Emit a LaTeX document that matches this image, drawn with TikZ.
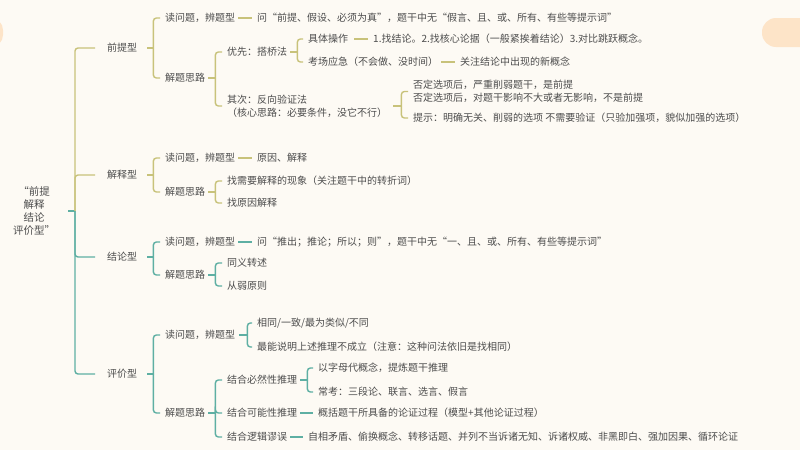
\documentclass[tikz,border=0pt]{standalone}
\usepackage{fontspec}
\setmainfont{Noto Sans CJK SC}
\definecolor{bg}{HTML}{FDFAF4}
\definecolor{olv}{HTML}{C8C27A}
\definecolor{tea}{HTML}{5EAFA3}
\definecolor{txt}{HTML}{4D4D4D}
\definecolor{blob}{HTML}{FDE4C8}
\begin{document}
\begin{tikzpicture}[x=1pt,y=-1pt,
  lbl/.style={anchor=west, inner sep=0pt, text=txt, font=\fontsize{10}{13}\selectfont, align=left},
  ol/.style={draw=olv, line width=1.4pt},
  tl/.style={draw=tea, line width=1.4pt},
  kid/.style={rounded corners=3pt, shorten >=5pt}]
\fill[bg] (0,0) rectangle (800,450);
\useasboundingbox (0,0) rectangle (800,450);
\fill[blob, rounded corners=12pt] (-20,18) rectangle (3,47);
\fill[blob, rounded corners=14pt] (762,18) rectangle (830,47);

% root
\node[lbl, anchor=center, align=center, font=\fontsize{10.5}{12.7}\selectfont] (root) at (34,211) {“前提\\解释\\结论\\评价型”};
\draw[tl] (root) ++(34,0) -- ++(7,0) coordinate (rb);

% level 1
\node[lbl] (a) at (107,48) {前提型};
\node[lbl] (b) at (107,175) {解释型};
\node[lbl] (c) at (107,257) {结论型};
\node[lbl] (d) at (107,374) {评价型};
\draw[ol,kid,shorten >=12pt] (rb) |- (a.west);
\draw[ol,kid,shorten >=12pt] (rb) |- (b.west);
\draw[tl,kid,shorten >=12pt] (rb) |- (c.west);
\draw[tl,kid,shorten >=12pt] (rb) |- (d.west);

% ---------- 前提型
\node[lbl] (a1) at (165,18) {读问题，辨题型};
\node[lbl] (a2) at (165,78) {解题思路};
\draw[ol] (a.east) ++(10,0) -- ++(6,0) coordinate (ba);
\draw[ol,kid] (ba) |- (a1.west);
\draw[ol,kid] (ba) |- (a2.west);

\node[lbl] (a1x) at (257,18) {问“前提、假设、必须为真”，题干中无“假言、且、或、所有、有些等提示词”};
\draw[ol,shorten >=5pt] (a1.east) ++(3,0) -- (a1x.west);

\node[lbl] (a21) at (227,52) {优先：搭桥法};
\node[lbl] (a22) at (227,106) {其次：反向验证法\\（核心思路：必要条件，没它不行）};
\draw[ol] (a2.east) ++(3,0) -- ++(7,0) coordinate (ba2);
\draw[ol,kid] (ba2) |- (a21.west);
\draw[ol,kid] (ba2) |- (a22.west);

\node[lbl] (a211) at (308,39) {具体操作};
\node[lbl] (a212) at (308,62) {考场应急（不会做、没时间）};
\draw[ol] (a21.east) ++(3,0) -- ++(7,0) coordinate (ba21);
\draw[ol,kid] (ba21) |- (a211.west);
\draw[ol,kid] (ba21) |- (a212.west);

\node[lbl] (a211x) at (373,39) {1.找结论。2.找核心论据（一般紧挨着结论）3.对比跳跃概念。};
\draw[ol,shorten >=5pt] (a211.east) ++(6,0) -- (a211x.west);
\node[lbl] (a212x) at (460,62) {关注结论中出现的新概念};
\draw[ol,shorten >=5pt] (a212.east) ++(3,0) -- (a212x.west);

\node[lbl] (a221) at (413,91.5) {否定选项后，严重削弱题干，是前提\\否定选项后，对题干影响不大或者无影响，不是前提};
\node[lbl] (a222) at (413,118) {提示：明确无关、削弱的选项 不需要验证（只验加强项，貌似加强的选项）};
\draw[ol] (a22.east) ++(6,0) -- ++(8,0) coordinate (ba22);
\draw[ol,kid] (ba22) |- (a221.west);
\draw[ol,kid] (ba22) |- (a222.west);

% ---------- 解释型
\node[lbl] (b1) at (165,158) {读问题，辨题型};
\node[lbl] (b2) at (165,192) {解题思路};
\draw[ol] (b.east) ++(10,0) -- ++(6,0) coordinate (bb);
\draw[ol,kid] (bb) |- (b1.west);
\draw[ol,kid] (bb) |- (b2.west);
\node[lbl] (b1x) at (257,158) {原因、解释};
\draw[ol,shorten >=5pt] (b1.east) ++(3,0) -- (b1x.west);
\node[lbl] (b21) at (227,181) {找需要解释的现象（关注题干中的转折词）};
\node[lbl] (b22) at (227,203) {找原因解释};
\draw[ol] (b2.east) ++(3,0) -- ++(7,0) coordinate (bb2);
\draw[ol,kid] (bb2) |- (b21.west);
\draw[ol,kid] (bb2) |- (b22.west);

% ---------- 结论型
\node[lbl] (c1) at (165,242) {读问题，辨题型};
\node[lbl] (c2) at (165,275) {解题思路};
\draw[tl] (c.east) ++(10,0) -- ++(6,0) coordinate (bc);
\draw[tl,kid] (bc) |- (c1.west);
\draw[tl,kid] (bc) |- (c2.west);
\node[lbl] (c1x) at (257,242) {问“推出；推论；所以；则”，题干中无“一、且、或、所有、有些等提示词”};
\draw[tl,shorten >=5pt] (c1.east) ++(3,0) -- (c1x.west);
\node[lbl] (c21) at (227,263) {同义转述};
\node[lbl] (c22) at (227,286) {从弱原则};
\draw[tl] (c2.east) ++(3,0) -- ++(7,0) coordinate (bc2);
\draw[tl,kid] (bc2) |- (c21.west);
\draw[tl,kid] (bc2) |- (c22.west);

% ---------- 评价型
\node[lbl] (d1) at (165,335) {读问题，辨题型};
\node[lbl] (d2) at (165,413) {解题思路};
\draw[tl] (d.east) ++(10,0) -- ++(6,0) coordinate (bd);
\draw[tl,kid] (bd) |- (d1.west);
\draw[tl,kid] (bd) |- (d2.west);

\node[lbl] (d11) at (257,323) {相同/一致/最为类似/不同};
\node[lbl] (d12) at (257,347) {最能说明上述推理不成立（注意：这种问法依旧是找相同）};
\draw[tl] (d1.east) ++(4,0) -- ++(8,0) coordinate (bd1);
\draw[tl,kid] (bd1) |- (d11.west);
\draw[tl,kid] (bd1) |- (d12.west);

\node[lbl] (d21) at (227,380) {结合必然性推理};
\node[lbl] (d22) at (227,413) {结合可能性推理};
\node[lbl] (d23) at (227,437) {结合逻辑谬误};
\draw[tl] (d2.east) ++(3,0) -- ++(7,0) coordinate (bd2);
\draw[tl,kid] (bd2) |- (d21.west);
\draw[tl,kid] (bd2) |- (d22.west);
\draw[tl,kid] (bd2) |- (d23.west);

\node[lbl] (d211) at (318,368) {以字母代概念，提炼题干推理};
\node[lbl] (d212) at (318,392) {常考：三段论、联言、选言、假言};
\draw[tl] (d21.east) ++(3,0) -- ++(7,0) coordinate (bd21);
\draw[tl,kid] (bd21) |- (d211.west);
\draw[tl,kid] (bd21) |- (d212.west);

\node[lbl] (d22x) at (318,413) {概括题干所具备的论证过程（模型+其他论证过程）};
\draw[tl,shorten >=5pt] (d22.east) ++(3,0) -- (d22x.west);
\node[lbl] (d23x) at (308,437) {自相矛盾、偷换概念、转移话题、并列不当诉诸无知、诉诸权威、非黑即白、强加因果、循环论证};
\draw[tl,shorten >=5pt] (d23.east) ++(3,0) -- (d23x.west);
\end{tikzpicture}
\end{document}
